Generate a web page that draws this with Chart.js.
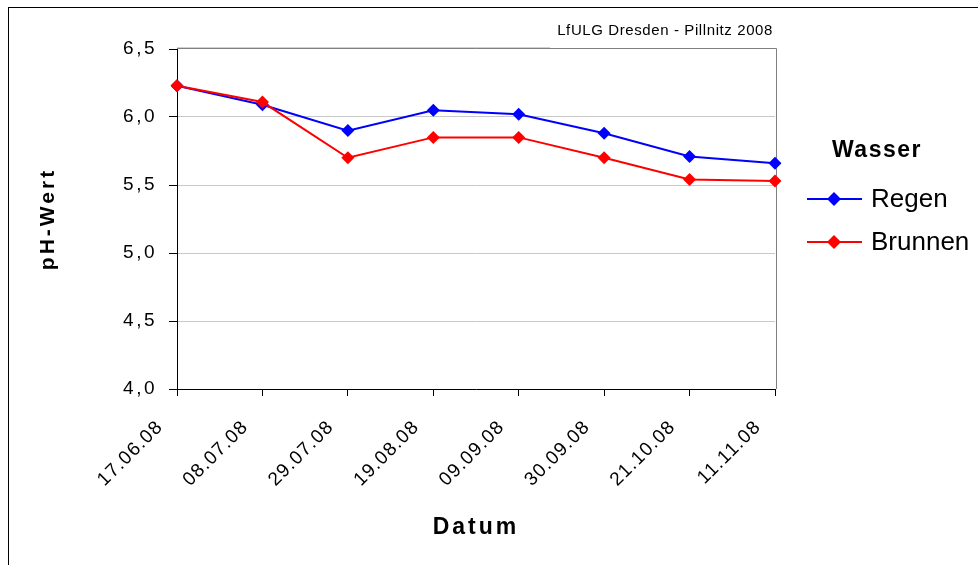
<!DOCTYPE html>
<html>
<head>
<meta charset="utf-8">
<script src="https://cdn.jsdelivr.net/npm/chart.js@4/dist/chart.umd.min.js"></script>
<style>
  html, body { margin: 0; padding: 0; background: #fff; }
  #c { display: block; }
</style>
</head>
<body>
<canvas id="c" width="978" height="565"></canvas>
<script>
// Sampling dates (Datum)
const dates = ['17.06.08', '08.07.08', '29.07.08', '19.08.08', '09.09.08', '30.09.08', '21.10.08', '11.11.08'];
// pH values per water source
const regen = [6.23, 6.09, 5.90, 6.05, 6.02, 5.88, 5.71, 5.66];
const brunnen = [6.23, 6.11, 5.70, 5.85, 5.85, 5.70, 5.54, 5.53];
const seriesNames = ['Regen', 'Brunnen'];
const seriesColors = ['#0000ff', '#ff0000'];
// Value axis range
const yMin = 4.0;
const yMax = 6.5;
const yStep = 0.5;
const legendTitle = 'Wasser';
const sourceNote = 'LfULG Dresden - Pillnitz 2008';
const xTitle = 'Datum';
const yTitle = 'pH-Wert';

const FONT = '"Liberation Sans", Arial, sans-serif';

// Letter spacing for axis labels and titles (wrapped around the scale's own draw calls)
const axisSpacing = {
  x: { drawLabels: '1.2px', drawTitle: '3px' },
  y: { drawLabels: '2.5px', drawTitle: '3px' }
};
const spacingPlugin = {
  id: 'axisSpacing',
  beforeDraw(chart) {
    Object.keys(axisSpacing).forEach((id) => {
      const s = chart.scales[id];
      if (!s || s.__spaced) return;
      s.__spaced = true;
      Object.keys(axisSpacing[id]).forEach((fn) => {
        const orig = s[fn].bind(s);
        s[fn] = function (...args) {
          const ctx = this.ctx;
          ctx.save();
          ctx.letterSpacing = axisSpacing[id][fn];
          orig(...args);
          ctx.restore();
        };
      });
    });
  }
};

// Outer frame, plot border and source note
const framePlugin = {
  id: 'frame',
  beforeDraw(chart) {
    const ctx = chart.ctx;
    ctx.save();
    ctx.fillStyle = '#fff';
    ctx.fillRect(0, 0, chart.width, chart.height);
    ctx.strokeStyle = '#000';
    ctx.lineWidth = 1;
    ctx.strokeRect(8.5, 7.5, 1200, 800);
    ctx.restore();
  },
  beforeDatasetsDraw(chart) {
    const { ctx, chartArea: a } = chart;
    ctx.save();
    ctx.lineWidth = 1;
    ctx.strokeStyle = '#d0d0d0';
    ctx.beginPath();
    ctx.moveTo(a.left, a.top - 1.5);
    ctx.lineTo(550, a.top - 1.5);
    ctx.stroke();
    ctx.strokeStyle = '#808080';
    ctx.beginPath();
    ctx.moveTo(a.left, a.top - 0.5);
    ctx.lineTo(a.right + 1.5, a.top - 0.5);
    ctx.lineTo(a.right + 1.5, a.bottom);
    ctx.stroke();
    ctx.fillStyle = '#000';
    ctx.font = '15px ' + FONT;
    ctx.letterSpacing = '0.6px';
    ctx.textAlign = 'right';
    ctx.textBaseline = 'middle';
    ctx.fillText(sourceNote, a.right - 2, 31);
    ctx.restore();
  }
};

// Legend box on the right: title plus line-and-diamond samples
const legendPlugin = {
  id: 'sideLegend',
  afterDraw(chart) {
    const ctx = chart.ctx;
    ctx.save();
    ctx.fillStyle = '#000';
    ctx.font = 'bold 23px ' + FONT;
    ctx.letterSpacing = '1.5px';
    ctx.textAlign = 'left';
    ctx.textBaseline = 'middle';
    ctx.fillText(legendTitle, 832, 151);
    ctx.letterSpacing = '0px';
    const rows = [199, 242];
    chart.data.datasets.forEach((ds, i) => {
      const y = rows[i];
      ctx.strokeStyle = ds.borderColor;
      ctx.lineWidth = 2;
      ctx.beginPath();
      ctx.moveTo(807, y);
      ctx.lineTo(862, y);
      ctx.stroke();
      ctx.fillStyle = ds.backgroundColor;
      ctx.beginPath();
      ctx.moveTo(834, y - 7);
      ctx.lineTo(841, y);
      ctx.lineTo(834, y + 7);
      ctx.lineTo(827, y);
      ctx.closePath();
      ctx.fill();
      ctx.fillStyle = '#000';
      ctx.font = '26px ' + FONT;
      ctx.fillText(ds.label, 871, y + 1);
    });
    ctx.restore();
  }
};

new Chart(document.getElementById('c'), {
  type: 'line',
  data: {
    labels: dates,
    datasets: [
      {
        label: seriesNames[0],
        data: regen,
        borderColor: seriesColors[0],
        backgroundColor: seriesColors[0],
        borderWidth: 2,
        pointStyle: 'rectRot',
        pointRadius: 6.5,
        pointBorderWidth: 0,
        tension: 0,
        order: 1
      },
      {
        label: seriesNames[1],
        data: brunnen,
        borderColor: seriesColors[1],
        backgroundColor: seriesColors[1],
        borderWidth: 2,
        pointStyle: 'rectRot',
        pointRadius: 6.5,
        pointBorderWidth: 0,
        tension: 0,
        order: 0
      }
    ]
  },
  options: {
    responsive: false,
    animation: false,
    devicePixelRatio: 1,
    layout: { padding: { left: 0, top: 49, right: 203, bottom: 0 } },
    plugins: {
      legend: { display: false },
      tooltip: { enabled: false }
    },
    scales: {
      x: {
        offset: false,
        grid: { drawOnChartArea: false, drawTicks: true, tickLength: 7, tickColor: '#000' },
        border: { display: true, color: '#000', width: 1 },
        ticks: {
          color: '#000',
          font: { family: FONT, size: 19 },
          minRotation: 45,
          maxRotation: 45,
          autoSkip: false,
          labelOffset: -17,
          padding: 20
        },
        title: {
          display: true,
          text: xTitle,
          color: '#000',
          font: { family: FONT, size: 23, weight: 'bold' },
          padding: { top: 0, bottom: 24 }
        },
        afterFit(scale) { scale.height = 176; }
      },
      y: {
        min: yMin,
        max: yMax,
        grid: {
          color: (c) => (c.tick && c.tick.value === yMax) ? 'rgba(0,0,0,0)' : '#c8c8c8',
          tickColor: '#000',
          tickLength: 8,
          drawTicks: true
        },
        border: { display: true, color: '#000', width: 1 },
        ticks: {
          stepSize: yStep,
          color: '#000',
          font: { family: FONT, size: 19 },
          padding: 12,
          callback: (v) => v.toFixed(1).replace('.', ',')
        },
        title: {
          display: true,
          text: yTitle,
          color: '#000',
          font: { family: FONT, size: 21, weight: 'bold' },
          padding: { top: 36, bottom: 0 }
        },
        afterFit(scale) { scale.width = 177; }
      }
    }
  },
  plugins: [spacingPlugin, framePlugin, legendPlugin]
});
</script>
</body>
</html>
